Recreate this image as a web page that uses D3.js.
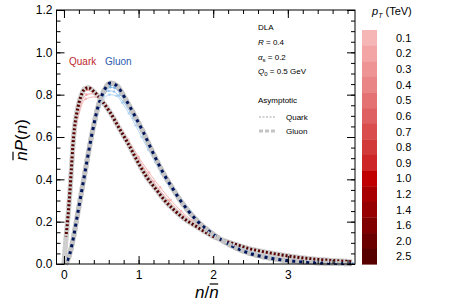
<!DOCTYPE html>
<html>
<head>
<meta charset="utf-8">
<script src="https://cdn.jsdelivr.net/npm/d3@7"></script>
<style>
  body { margin: 0; background: #fff; }
  svg { font-family: "Liberation Sans", Arial, sans-serif; }
</style>
</head>
<body>
<svg id="chart" width="450" height="304"></svg>
<script>
// asymptotic DLA curves
var quarkAsym = [[0.0,0.0],[0.02,0.09],[0.04,0.17],[0.06,0.25],[0.08,0.34],[0.10,0.45],[0.12,0.56],[0.14,0.64],[0.17,0.71],[0.20,0.76],[0.24,0.805],[0.28,0.828],[0.33,0.833],[0.40,0.815],[0.50,0.775],[0.62,0.715],[0.75,0.635],[0.85,0.575],[1.00,0.475],[1.10,0.415],[1.24,0.35],[1.35,0.3],[1.47,0.257],[1.60,0.217],[1.78,0.176],[2.00,0.13],[2.25,0.098],[2.47,0.074],[2.70,0.056],[2.92,0.043],[3.15,0.031],[3.37,0.022],[3.60,0.016],[3.86,0.011]];
var gluonAsym = [[0.02,0.0],[0.04,0.01],[0.08,0.05],[0.13,0.13],[0.17,0.21],[0.21,0.29],[0.25,0.37],[0.29,0.45],[0.355,0.578],[0.40,0.657],[0.45,0.735],[0.53,0.814],[0.62,0.855],[0.70,0.845],[0.84,0.77],[0.95,0.70],[1.06,0.625],[1.20,0.52],[1.33,0.43],[1.45,0.36],[1.56,0.30],[1.78,0.205],[2.00,0.14],[2.25,0.085],[2.47,0.052],[2.70,0.032],[2.92,0.019],[3.15,0.011],[3.37,0.006],[3.60,0.003],[3.86,0.001]];

// pT bins of the colour bar
var ptLabels = ["0.1","0.2","0.3","0.4","0.5","0.6","0.7","0.8","0.9","1.0","1.2","1.4","1.6","2.0","2.5"];
var redShades = ["#f6b6b6","#f3a4a4","#ee9494","#ea8585","#e47272","#df6060","#d94d4d","#d23a3a","#cc2626","#c00000","#a80000","#960000","#800000","#6a0000","#560000"];
var blueShades = ["#b4d6f2","#a2caee","#90bee8","#7eb2e3","#6aa4dc","#5898d6","#458bcf","#337ec8","#2070c0","#0a5cb4","#064aa0","#043a8c","#022c7a","#01206a","#00155c"];

// curves for some pT values: [pT index, points]
var quarkCurves = [
  [0, [[0.14,0.62],[0.29,0.78],[0.43,0.79],[0.57,0.745],[0.71,0.672],[0.86,0.588],[1.0,0.505],[1.14,0.432],[1.29,0.362],[1.43,0.302],[1.57,0.25],[1.71,0.207],[1.86,0.17],[2.0,0.137],[2.29,0.092],[2.57,0.062],[2.86,0.041],[3.14,0.026],[3.43,0.017],[3.71,0.011]]],
  [1, [[0.1,0.5],[0.2,0.72],[0.3,0.8],[0.4,0.805],[0.5,0.775],[0.6,0.728],[0.7,0.672],[0.8,0.612],[0.9,0.552],[1.0,0.493],[1.2,0.388],[1.4,0.3],[1.6,0.228],[1.8,0.172],[2.0,0.132],[2.4,0.078],[2.8,0.047],[3.2,0.028],[3.6,0.016]]],
  [3, [[0.06,0.3],[0.12,0.6],[0.18,0.74],[0.24,0.8],[0.3,0.822],[0.4,0.812],[0.5,0.776],[0.6,0.726],[0.75,0.642],[0.9,0.548],[1.05,0.452],[1.2,0.368],[1.4,0.285],[1.6,0.22],[1.8,0.17],[2.0,0.13],[2.4,0.079],[2.8,0.048],[3.2,0.028],[3.6,0.016]]],
  [6, [[0.04,0.2],[0.08,0.4],[0.12,0.58],[0.16,0.7],[0.2,0.765],[0.25,0.81],[0.3,0.828],[0.36,0.826],[0.45,0.798],[0.55,0.753],[0.7,0.668],[0.85,0.576],[1.0,0.478],[1.15,0.39],[1.3,0.32],[1.5,0.245],[1.75,0.182],[2.0,0.131],[2.4,0.08],[2.8,0.047],[3.2,0.028],[3.6,0.016]]],
  [14, [[0.025,0.13],[0.04,0.17],[0.06,0.25],[0.08,0.34],[0.10,0.45],[0.12,0.56],[0.14,0.64],[0.17,0.71],[0.20,0.76],[0.24,0.805],[0.28,0.828],[0.33,0.833],[0.40,0.815],[0.50,0.775],[0.62,0.715],[0.75,0.635],[0.85,0.575],[1.00,0.475],[1.10,0.415],[1.24,0.35],[1.35,0.3],[1.47,0.257],[1.60,0.217],[1.78,0.176],[2.00,0.13],[2.25,0.098],[2.47,0.074],[2.70,0.056],[2.92,0.043],[3.15,0.031],[3.37,0.022],[3.60,0.016],[3.86,0.011]]]
];
var gluonCurves = [
  [0, [[0.09,0.07],[0.17,0.2],[0.26,0.38],[0.35,0.55],[0.43,0.68],[0.52,0.77],[0.61,0.80],[0.7,0.795],[0.78,0.762],[0.87,0.712],[0.96,0.655],[1.04,0.6],[1.13,0.54],[1.22,0.482],[1.3,0.428],[1.48,0.332],[1.65,0.252],[1.83,0.187],[2.0,0.137],[2.26,0.087],[2.52,0.052],[2.78,0.031],[3.04,0.018],[3.3,0.01],[3.57,0.005],[3.83,0.002]]],
  [1, [[0.07,0.04],[0.13,0.13],[0.2,0.27],[0.27,0.41],[0.33,0.53],[0.4,0.65],[0.47,0.74],[0.53,0.795],[0.6,0.818],[0.67,0.815],[0.73,0.796],[0.8,0.765],[0.93,0.69],[1.07,0.605],[1.2,0.52],[1.33,0.435],[1.47,0.355],[1.6,0.286],[1.8,0.202],[2.0,0.139],[2.27,0.085],[2.53,0.051],[2.8,0.03],[3.07,0.017],[3.33,0.009],[3.6,0.004],[3.87,0.002]]],
  [3, [[0.05,0.02],[0.1,0.08],[0.15,0.17],[0.2,0.27],[0.25,0.37],[0.3,0.47],[0.35,0.565],[0.4,0.648],[0.45,0.72],[0.5,0.778],[0.56,0.818],[0.62,0.835],[0.68,0.832],[0.76,0.8],[0.85,0.758],[0.95,0.695],[1.05,0.628],[1.2,0.522],[1.35,0.422],[1.5,0.338],[1.7,0.245],[1.9,0.17],[2.1,0.118],[2.4,0.07],[2.7,0.035],[3.0,0.017],[3.3,0.008],[3.6,0.004],[3.85,0.002]]],
  [6, [[0.04,0.01],[0.08,0.05],[0.13,0.13],[0.17,0.21],[0.21,0.29],[0.25,0.37],[0.29,0.45],[0.355,0.578],[0.40,0.657],[0.45,0.733],[0.53,0.81],[0.62,0.845],[0.70,0.838],[0.84,0.768],[0.95,0.7],[1.06,0.625],[1.20,0.52],[1.33,0.43],[1.45,0.36],[1.56,0.30],[1.78,0.205],[2.00,0.14],[2.25,0.085],[2.47,0.052],[2.70,0.032],[2.92,0.019],[3.15,0.011],[3.37,0.006],[3.60,0.003],[3.86,0.001]]],
  [14, [[0.04,0.01],[0.08,0.05],[0.13,0.13],[0.17,0.21],[0.21,0.29],[0.25,0.37],[0.29,0.45],[0.355,0.578],[0.40,0.657],[0.45,0.735],[0.53,0.814],[0.62,0.855],[0.70,0.845],[0.84,0.77],[0.95,0.70],[1.06,0.625],[1.20,0.52],[1.33,0.43],[1.45,0.36],[1.56,0.30],[1.78,0.205],[2.00,0.14],[2.25,0.085],[2.47,0.052],[2.70,0.032],[2.92,0.019],[3.15,0.011],[3.37,0.006],[3.60,0.003],[3.86,0.001]]]
];

var xMajor = [0, 1, 2, 3];
var yMajor = [0, 0.2, 0.4, 0.6, 0.8, 1.0, 1.2];

var svg = d3.select("#chart");
var pLeft = 56.5, pRight = 355, pTop = 10, pBottom = 264;

var x = d3.scaleLinear().domain([-0.1, 3.9]).range([pLeft, pRight]);
var y = d3.scaleLinear().domain([0, 1.2]).range([pBottom, pTop]);

var xMinor = d3.range(0, 3.81, 0.2);
var yMinor = d3.range(0, 1.201, 0.05);

var line = d3.line()
  .x(function (d) { return x(d[0]); })
  .y(function (d) { return y(d[1]); })
  .curve(d3.curveMonotoneX);

var plot = svg.append("g");

// grey band under everything
plot.append("path").datum(quarkAsym).attr("d", line)
  .attr("fill", "none").attr("stroke", "#cfcfcf").attr("stroke-width", 5);
plot.append("path").datum(gluonAsym).attr("d", line)
  .attr("fill", "none").attr("stroke", "#c4c4c4").attr("stroke-width", 5);

// pT curves, light first
function drawCurves(curves, shades) {
  curves.forEach(function (c) {
    var idx = c[0], pts = c[1];
    var dark = idx >= 10;
    plot.append("path").datum(pts).attr("d", line)
      .attr("fill", "none")
      .attr("stroke", shades[idx])
      .attr("stroke-width", dark ? 3 : 1);
    if (!dark) {
      plot.selectAll(null).data(pts).enter().append("circle")
        .attr("cx", function (d) { return x(d[0]); })
        .attr("cy", function (d) { return y(d[1]); })
        .attr("r", 1.3)
        .attr("fill", shades[idx]);
    }
  });
}
drawCurves(quarkCurves, redShades);
drawCurves(gluonCurves, blueShades);

// asymptotic dashed on top
plot.append("path").datum(quarkAsym).attr("d", line)
  .attr("fill", "none").attr("stroke", "#cfcfcf").attr("stroke-width", 5)
  .attr("stroke-dasharray", "2,2");
plot.append("path").datum(gluonAsym).attr("d", line)
  .attr("fill", "none").attr("stroke", "#c4c4c4").attr("stroke-width", 5)
  .attr("stroke-dasharray", "4,3");

// frame
svg.append("rect").attr("x", pLeft).attr("y", pTop)
  .attr("width", pRight - pLeft).attr("height", pBottom - pTop)
  .attr("fill", "none").attr("stroke", "#000").attr("stroke-width", 1);

// axes, ticks inside
function ticks(axis, pos, values, size, labels) {
  var g = svg.append("g").attr("transform", pos)
    .call(axis.tickValues(values).tickSize(size).tickSizeOuter(0)
      .tickFormat(labels ? labels : ""));
  g.select(".domain").remove();
  g.selectAll("line").attr("stroke", "#000");
  return g;
}
ticks(d3.axisBottom(x), "translate(0," + pBottom + ")", xMinor, -4);
ticks(d3.axisTop(x), "translate(0," + pTop + ")", xMinor, -4);
ticks(d3.axisTop(x), "translate(0," + pTop + ")", xMajor, -8);
var gx = ticks(d3.axisBottom(x), "translate(0," + pBottom + ")", xMajor, -8, d3.format("d"));
gx.selectAll("text").attr("y", 6).attr("font-size", 12).attr("fill", "#000")
  .attr("font-family", "Liberation Sans, Arial, sans-serif");

ticks(d3.axisLeft(y), "translate(" + pLeft + ",0)", yMinor, -4);
ticks(d3.axisRight(y), "translate(" + pRight + ",0)", yMinor, -4);
ticks(d3.axisRight(y), "translate(" + pRight + ",0)", yMajor, -8);
var gy = ticks(d3.axisLeft(y), "translate(" + pLeft + ",0)", yMajor, -8, d3.format(".1f"));
gy.selectAll("text").attr("x", -4).attr("font-size", 12).attr("fill", "#000")
  .attr("font-family", "Liberation Sans, Arial, sans-serif");

// axis titles
var xt = svg.append("text").attr("x", 195).attr("y", 298)
  .attr("font-size", 17).attr("font-style", "italic");
xt.append("tspan").text("n");
xt.append("tspan").attr("font-style", "normal").text("/");
xt.append("tspan").text("n");
(function () {
  var node = xt.node();
  var s = node.getStartPositionOfChar(2).x, w = node.getSubStringLength(2, 1);
  svg.append("line").attr("x1", s + 0.5).attr("x2", s + w - 0.5)
    .attr("y1", 284).attr("y2", 284).attr("stroke", "#000").attr("stroke-width", 1.2);
})();

var yg = svg.append("g").attr("transform", "translate(27,140) rotate(-90)");
var yt = yg.append("text").attr("text-anchor", "middle")
  .attr("font-size", 17).attr("font-style", "italic");
yt.append("tspan").text("n");
yt.append("tspan").text("P");
yt.append("tspan").attr("font-style", "normal").text("(");
yt.append("tspan").text("n");
yt.append("tspan").attr("font-style", "normal").text(")");
(function () {
  var node = yt.node();
  var s = node.getStartPositionOfChar(0).x, w = node.getSubStringLength(0, 1);
  yg.append("line").attr("x1", s + 0.5).attr("x2", s + w - 0.5)
    .attr("y1", -14).attr("y2", -14).attr("stroke", "#000").attr("stroke-width", 1.2);
})();

// Quark / Gluon labels
svg.append("text").attr("x", 69).attr("y", 65).attr("font-size", 10)
  .attr("fill", "#c0282d").text("Quark");
svg.append("text").attr("x", 105).attr("y", 65).attr("font-size", 10)
  .attr("fill", "#2a5cb0").text("Gluon");

// info text
var info = svg.append("g").attr("font-size", 8).attr("fill", "#000");
info.append("text").attr("x", 258).attr("y", 30).text("DLA");
var r = info.append("text").attr("x", 258).attr("y", 45);
r.append("tspan").attr("font-style", "italic").text("R");
r.append("tspan").text(" = 0.4");
var a = info.append("text").attr("x", 258).attr("y", 60);
a.append("tspan").attr("font-style", "italic").text("α");
a.append("tspan").attr("font-size", 6).attr("dy", 2).text("s");
a.append("tspan").attr("dy", -2).text(" = 0.2");
var q = info.append("text").attr("x", 258).attr("y", 74);
q.append("tspan").attr("font-style", "italic").text("Q");
q.append("tspan").attr("font-size", 6).attr("dy", 2).text("0");
q.append("tspan").attr("dy", -2).text(" = 0.5 GeV");

info.append("text").attr("x", 258).attr("y", 103).text("Asymptotic");
info.append("line").attr("x1", 259).attr("x2", 276).attr("y1", 117).attr("y2", 117)
  .attr("stroke", "#d2d2d2").attr("stroke-width", 2).attr("stroke-dasharray", "2,1.5");
info.append("text").attr("x", 286).attr("y", 120).text("Quark");
info.append("line").attr("x1", 259).attr("x2", 276).attr("y1", 131).attr("y2", 131)
  .attr("stroke", "#c4c4c4").attr("stroke-width", 3).attr("stroke-dasharray", "4,2");
info.append("text").attr("x", 286).attr("y", 134).text("Gluon");

// colour bar
var cb = d3.scaleBand().domain(ptLabels).range([30, 264.3]).padding(0);
svg.append("g").selectAll("rect").data(ptLabels).enter().append("rect")
  .attr("x", 362).attr("width", 15)
  .attr("y", function (d) { return cb(d); })
  .attr("height", cb.bandwidth() + 0.3)
  .attr("fill", function (d, i) { return redShades[i]; });
svg.append("g").selectAll("text").data(ptLabels).enter().append("text")
  .attr("x", 396)
  .attr("y", function (d) { return cb(d) + cb.bandwidth() / 2 + 4; })
  .attr("font-size", 11).text(function (d) { return d; });
var pt = svg.append("text").attr("x", 372).attr("y", 15).attr("font-size", 11);
pt.append("tspan").attr("font-style", "italic").text("p");
pt.append("tspan").attr("font-style", "italic").attr("font-size", 7).attr("dy", 3).text("T");
pt.append("tspan").attr("dy", -3).text(" (TeV)");
</script>
</body>
</html>
